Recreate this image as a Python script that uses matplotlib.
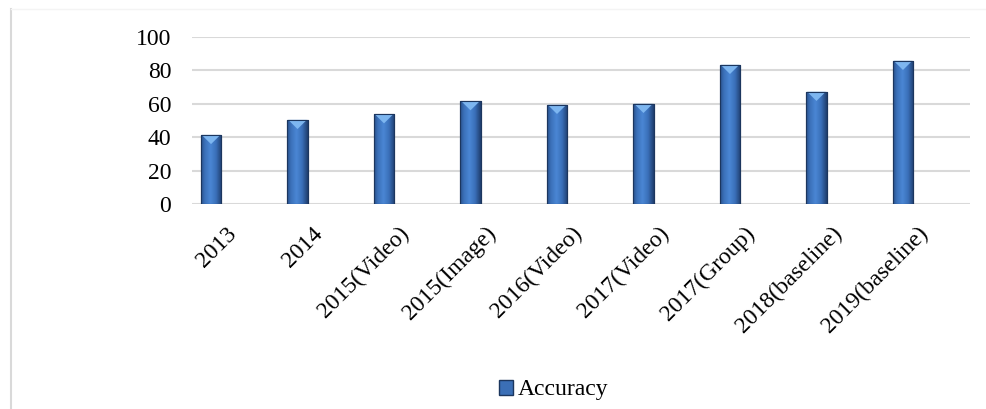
import matplotlib.pyplot as plt
import matplotlib.transforms as mtransforms
import numpy as np
from matplotlib.patches import Polygon, Patch
from matplotlib.lines import Line2D
from matplotlib.colors import LinearSegmentedColormap

categories = ['2013', '2014', '2015(Video)', '2015(Image)', '2016(Video)',
              '2017(Video)', '2017(Group)', '2018(baseline)', '2019(baseline)']
accuracy = [41.3, 50.3, 53.7, 61.5, 59.3, 59.9, 83.2, 67.1, 85.6]
y_ticks = [0, 20, 40, 60, 80, 100]

plt.rcParams['font.family'] = ['Liberation Serif', 'DejaVu Serif']

fig = plt.figure(figsize=(9.86, 4.09), dpi=100)
ax = fig.add_axes([192 / 986, 1 - 204 / 409, (970 - 192) / 986, (204 - 36.7) / 409])

x = np.arange(len(categories))
bars = ax.bar(x, accuracy, width=0.235, color='#3b6fb6', edgecolor='#1c365e',
              linewidth=0.8, zorder=3)

# horizontal gradient inside each bar + light triangle on top
grad = np.linspace(0, 1, 64)
grad = 1 - np.abs(grad - 0.45) * 1.6
grad = np.clip(grad, 0, 1)[None, :]
cmap = LinearSegmentedColormap.from_list('barblue', ['#1f3e6e', '#3a6fb8', '#4a86d4'])
for b in bars:
    x0, w, h = b.get_x(), b.get_width(), b.get_height()
    im = ax.imshow(grad, extent=[x0, x0 + w, 0, h], aspect='auto', cmap=cmap,
                   zorder=3.5, interpolation='bicubic')
    im.set_clip_path(b)
    tri = Polygon([[x0 + 0.01, h], [x0 + w - 0.01, h], [x0 + w / 2, h - 5.5]],
                  closed=True, facecolor='#7db6f0', edgecolor='none', zorder=4)
    ax.add_patch(tri)
    ax.add_patch(plt.Rectangle((x0, 0), w, h, fill=False, edgecolor='#1c365e',
                               linewidth=0.8, zorder=4.5))

ax.set_xlim(-0.22, len(categories) - 0.225)
ax.set_ylim(0, 100)
ax.set_yticks(y_ticks)
ax.set_xticks(x)
ax.set_xticklabels(categories, rotation=45, ha='right', va='center', rotation_mode='anchor')
ax.tick_params(axis='both', length=0, labelsize=17, colors='black')
ax.tick_params(axis='x', pad=19)
ax.tick_params(axis='y', pad=15)
shift = mtransforms.ScaledTranslation(22 / 100, 0, fig.dpi_scale_trans)
for lbl in ax.get_xticklabels():
    lbl.set_transform(lbl.get_transform() + shift)
ax.grid(axis='y', color='#d9d9d9', linewidth=1.5, zorder=0)
for s in ax.spines.values():
    s.set_visible(False)

# outer chart frame (left edge)
fig.add_artist(Line2D([11 / 986, 11 / 986], [0, 1 - 9 / 409], color='#d9d9d9', linewidth=1.5))
fig.add_artist(Line2D([11 / 986, 1], [1 - 9 / 409, 1 - 9 / 409], color='#f4f4f4', linewidth=1))

handle = Patch(facecolor='#3b6fb6', edgecolor='#1c365e')
fig.legend([handle], ['Accuracy'], loc='center', bbox_to_anchor=(554 / 986, 1 - 390 / 409),
           frameon=False, fontsize=17, handlelength=0.6, handleheight=0.6, handletextpad=0.2)

plt.savefig('out.png', dpi=100)
